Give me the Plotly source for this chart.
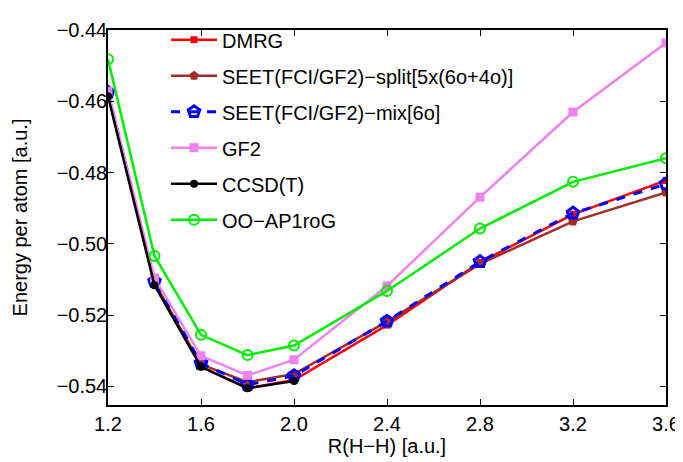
import plotly.graph_objects as go

R = [1.2, 1.4, 1.6, 1.8, 2.0, 2.4, 2.8, 3.2, 3.6]
R_ccsd = [1.2, 1.4, 1.6, 1.8, 2.0]

dmrg = [-0.4580, -0.5110, -0.5345, -0.5405, -0.5382, -0.5228, -0.5052, -0.4917, -0.4822]
seet_split = [-0.4575, -0.5110, -0.5338, -0.5388, -0.5365, -0.5218, -0.5056, -0.4937, -0.4856]
seet_mix = [-0.4575, -0.5105, -0.5335, -0.5395, -0.5370, -0.5217, -0.5050, -0.4914, -0.4832]
gf2 = [-0.4572, -0.5096, -0.5314, -0.5369, -0.5325, -0.5118, -0.4869, -0.4630, -0.4436]
ccsd_t = [-0.4586, -0.5116, -0.5345, -0.5405, -0.5385]
oo_ap1rog = [-0.4482, -0.5034, -0.5255, -0.5312, -0.5285, -0.5132, -0.4957, -0.4826, -0.4760]

names = ["DMRG", "SEET(FCI/GF2)\u2212split[5x(6o+4o)]", "SEET(FCI/GF2)\u2212mix[6o]",
         "GF2", "CCSD(T)", "OO\u2212AP1roG"]

fig = go.Figure()
fig.add_trace(go.Scatter(x=R, y=dmrg, name=names[0], mode="lines+markers",
                         line=dict(color="#ff0000", width=2.5),
                         marker=dict(symbol="square", size=7, color="#ff0000")))
fig.add_trace(go.Scatter(x=R, y=seet_split, name=names[1], mode="lines+markers",
                         line=dict(color="#a52a2a", width=2.5),
                         marker=dict(symbol="pentagon", size=10, color="#a52a2a")))
fig.add_trace(go.Scatter(x=R, y=seet_mix, name=names[2], mode="lines+markers",
                         line=dict(color="#0000ff", width=3, dash="dash"),
                         marker=dict(symbol="pentagon-open", size=12, color="#0000ff",
                                     line=dict(width=3, color="#0000ff"))))
fig.add_trace(go.Scatter(x=R, y=gf2, name=names[3], mode="lines+markers",
                         line=dict(color="#ee82ee", width=2.5),
                         marker=dict(symbol="square", size=9, color="#ee82ee")))
fig.add_trace(go.Scatter(x=R_ccsd, y=ccsd_t, name=names[4], mode="lines+markers",
                         line=dict(color="#000000", width=2.5),
                         marker=dict(symbol="circle", size=8, color="#000000")))
fig.add_trace(go.Scatter(x=R, y=oo_ap1rog, name=names[5], mode="lines+markers",
                         line=dict(color="#00ee00", width=2.5),
                         marker=dict(symbol="circle-open", size=10, color="#00ee00",
                                     line=dict(width=2, color="#00ee00"))))

for i, tr in enumerate(fig.data):
    tr.legendgroup = f"g{i}"

axis_common = dict(showline=True, linecolor="black", linewidth=1.5, mirror="ticks",
                   ticks="inside", ticklen=6, tickcolor="black", showgrid=False,
                   zeroline=False, automargin=False,
                   tickfont=dict(size=20, color="black"))

fig.update_layout(
    width=675, height=454,
    margin=dict(l=100, r=17, t=12, b=57),
    paper_bgcolor="white", plot_bgcolor="white",
    font=dict(family="Liberation Sans, Arial, sans-serif", color="black"),
    xaxis=dict(range=[1.2, 3.6], tickvals=[1.2, 1.6, 2.0, 2.4, 2.8, 3.2, 3.6],
               tickformat=".1f", ticklabelstandoff=0,
               title=dict(text="R(H\u2212H) [a.u.]", font=dict(size=20), standoff=0),
               **axis_common),
    yaxis=dict(range=[-0.5452, -0.44], tickvals=[-0.54, -0.52, -0.50, -0.48, -0.46, -0.44],
               tickformat=".2f", ticklabelstandoff=-5,
               title=dict(text="Energy per atom [a.u.]", font=dict(size=20), standoff=24),
               **axis_common),
    legend=dict(x=0.104, y=1.026, xanchor="left", yanchor="top", bgcolor="rgba(0,0,0,0)",
                font=dict(size=20), traceorder="grouped", tracegroupgap=7,
                itemwidth=46),
    showlegend=True,
)

fig.write_html("out.html")
